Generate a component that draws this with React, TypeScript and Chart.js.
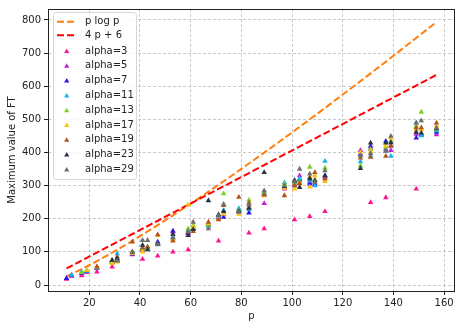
import React, { useEffect, useRef } from 'react';
import { Chart, registerables } from 'chart.js';
Chart.register(...registerables);

const primes = [11, 13, 17, 19, 23, 29, 31, 37, 41, 43, 47, 53, 59, 61, 67, 71, 73, 79, 83, 89, 97, 101, 103, 107, 109, 113, 127, 131, 137, 139, 149, 151, 157];

const pLogP = [26.38, 33.34, 48.16, 55.94, 72.12, 97.65, 106.45, 133.6, 152.26, 161.73, 180.96, 210.42, 240.57, 250.76, 281.71, 302.65, 313.2, 345.18, 366.76, 399.49, 443.75, 466.13, 477.37, 499.99, 511.35, 534.2, 615.21, 638.65, 674.04, 685.9, 745.58, 757.61, 793.82];
const fourPPlus6 = [50, 58, 74, 82, 98, 122, 130, 154, 170, 178, 194, 218, 242, 250, 274, 290, 298, 322, 338, 362, 394, 410, 418, 434, 442, 458, 514, 530, 554, 562, 602, 610, 634];

const a3 = [18, 27, 28, 38, 40, 55, null, null, 78, null, 88, 100, 107, null, null, 133, null, null, 157, 170, null, 197, null, 207, null, 222, null, 249, 264, null, 290, null, null];
const a5 = [20, 28, 35, 40, 50, 68, 72, 92, 105, 110, 125, 160, 155, 168, 185, 200, 215, 222, 235, 246, 290, 305, 330, 310, 302, 325, 406, 412, 410, 406, 455, 455, 454];
const a7 = [20, 29, 36, 41, 52, 70, 74, 95, 110, 108, 130, 163, 158, 170, 182, 205, 205, 225, 218, 275, 295, 300, 318, 305, 305, 330, 395, 419, 434, 420, 444, 452, 461];
const a11 = [null, 30, 40, 42, 52, 72, 95, 98, 112, 112, 122, 145, 165, 175, 178, 208, 225, 231, 228, 278, 309, 310, 322, 315, 300, 374, 372, 390, 405, 389, 490, 451, 466];
const a13 = [null, null, 37, 44, 54, 70, 78, 97, 108, 115, 124, 140, 170, 180, 180, 212, 276, 225, 256, 282, 305, 308, 312, 356, 318, 353, 360, 410, 416, 434, 480, 522, 470];
const a17 = [null, null, null, 45, 55, 65, 70, 96, 100, 110, 150, 138, 242, 175, 186, 200, 215, 214, 235, 270, 292, 290, 305, 296, 330, 313, 400, 404, 420, 444, 469, 470, 480];
const a19 = [null, null, null, null, 55, 74, 85, 130, 113, 115, 152, 133, 160, 162, 190, 197, 240, 265, 248, 272, 270, 300, 307, 325, 340, 320, 384, 386, 389, 420, 475, 475, 489];
const a23 = [null, null, null, null, null, 75, 80, 100, 120, 107, 125, 153, 150, 168, 255, 212, 222, 222, 232, 340, 298, 316, 295, 320, 315, 330, 352, 429, 429, 430, 461, 459, 472];
const a29 = [null, null, null, null, null, null, 73, 100, 135, 135, 123, 143, 160, 190, 170, 210, 244, 220, 242, 285, 300, 312, 350, 335, 310, 345, 391, 397, 404, 449, 489, 496, 474];

const alphaLabels = ['alpha=3', 'alpha=5', 'alpha=7', 'alpha=11', 'alpha=13', 'alpha=17', 'alpha=19', 'alpha=23', 'alpha=29'];
const alphaColors = ['#ff1493', '#c81ed6', '#2a17e8', '#18b0f0', '#72d420', '#ffc00a', '#b0561c', '#263545', '#6e6e6e'];
const alphaSeries = [a3, a5, a7, a11, a13, a17, a19, a23, a29];

const lineLabels = ['p log p', '4 p + 6'];
const lineColors = ['#ff7f0e', '#ff0000'];

const xTicks = [20, 40, 60, 80, 100, 120, 140, 160];
const yTicks = [0, 100, 200, 300, 400, 500, 600, 700, 800];

const FONT = 'DejaVu Sans';

function tri(ctx: CanvasRenderingContext2D, x: number, y: number, r: number, color: string) {
  ctx.beginPath();
  ctx.moveTo(x, y - r);
  ctx.lineTo(x + r * 0.866, y + r * 0.5);
  ctx.lineTo(x - r * 0.866, y + r * 0.5);
  ctx.closePath();
  ctx.fillStyle = color;
  ctx.fill();
}

const boxPlugin = {
  id: 'mplBox',
  afterDraw(chart: any) {
    const { ctx, chartArea: a } = chart;
    ctx.save();
    ctx.strokeStyle = '#222';
    ctx.lineWidth = 1;
    ctx.setLineDash([]);
    ctx.strokeRect(Math.round(a.left) + 0.5, Math.round(a.top) + 0.5, Math.round(a.right - a.left) - 1, Math.round(a.bottom - a.top));
    ctx.restore();
  },
};

const legendPlugin = {
  id: 'mplLegend',
  afterDraw(chart: any) {
    const ctx: CanvasRenderingContext2D = chart.ctx;
    ctx.save();
    const x0 = 53.5, y0 = 12.5, w = 83, h = 167, r = 3;
    ctx.beginPath();
    ctx.moveTo(x0 + r, y0);
    ctx.lineTo(x0 + w - r, y0);
    ctx.quadraticCurveTo(x0 + w, y0, x0 + w, y0 + r);
    ctx.lineTo(x0 + w, y0 + h - r);
    ctx.quadraticCurveTo(x0 + w, y0 + h, x0 + w - r, y0 + h);
    ctx.lineTo(x0 + r, y0 + h);
    ctx.quadraticCurveTo(x0, y0 + h, x0, y0 + h - r);
    ctx.lineTo(x0, y0 + r);
    ctx.quadraticCurveTo(x0, y0, x0 + r, y0);
    ctx.closePath();
    ctx.fillStyle = 'rgba(255,255,255,0.85)';
    ctx.fill();
    ctx.strokeStyle = '#d6d6d6';
    ctx.lineWidth = 1;
    ctx.stroke();

    ctx.font = `10px "${FONT}"`;
    ctx.textBaseline = 'middle';
    ctx.textAlign = 'left';
    const lineYs = [21.7, 35.3];
    lineLabels.forEach((lab, i) => {
      const y = lineYs[i];
      ctx.beginPath();
      ctx.setLineDash([7, 3]);
      ctx.strokeStyle = lineColors[i];
      ctx.lineWidth = 2;
      ctx.moveTo(57, y);
      ctx.lineTo(77, y);
      ctx.stroke();
      ctx.setLineDash([]);
      ctx.fillStyle = '#222';
      ctx.fillText(lab, 85, y);
    });
    alphaLabels.forEach((lab, i) => {
      const y = 51 + i * 14.8;
      tri(ctx, 66.7, y + 0.5, 3, alphaColors[i]);
      ctx.fillStyle = '#222';
      ctx.fillText(lab, 85, y);
    });
    ctx.restore();
  },
};

export default function App() {
  const ref = useRef<HTMLCanvasElement>(null);
  useEffect(() => {
    if (!ref.current) return;
    const toPts = (ys: (number | null)[]) =>
      primes.map((p, i) => (ys[i] == null ? null : { x: p, y: ys[i] as number })).filter((v) => v !== null) as { x: number; y: number }[];

    const datasets: any[] = [];
    [pLogP, fourPPlus6].forEach((ys, i) => {
      datasets.push({
        label: lineLabels[i],
        data: toPts(ys),
        showLine: true,
        borderColor: lineColors[i],
        backgroundColor: lineColors[i],
        borderWidth: 2,
        borderDash: [7, 3],
        pointRadius: 0,
        tension: 0,
        fill: false,
        order: 100 - i,
      });
    });
    alphaSeries.forEach((ys, i) => {
      datasets.push({
        label: alphaLabels[i],
        data: toPts(ys),
        showLine: false,
        pointStyle: 'triangle',
        pointRadius: 3.2,
        pointBorderWidth: 0,
        borderWidth: 0,
        backgroundColor: alphaColors[i],
        borderColor: alphaColors[i],
        order: 20 - i,
      });
    });

    const tickFont = { family: FONT, size: 10 };
    const gridOpts: any = {
      color: '#bdbdbd',
      lineWidth: 0.8,
      drawTicks: true,
      tickLength: 4,
      tickColor: '#222',
      tickBorderDash: [],
      tickWidth: 1,
    };
    const chart = new Chart(ref.current, {
      type: 'scatter',
      data: { datasets },
      options: {
        animation: false,
        responsive: false,
        layout: { padding: { top: 7, right: 2, left: 0, bottom: 0 } },
        plugins: { legend: { display: false }, tooltip: { enabled: false } },
        scales: {
          x: {
            type: 'linear',
            min: 3.7,
            max: 164.3,
            afterBuildTicks: (axis: any) => {
              axis.ticks = xTicks.map((v) => ({ value: v }));
            },
            afterFit: (s: any) => {
              s.height = 31;
            },
            ticks: { font: tickFont, color: '#222', padding: 2, maxRotation: 0 },
            grid: gridOpts,
            border: { display: false, dash: [3, 2] } as any,
            title: { display: true, text: 'p', font: { family: FONT, size: 10 }, color: '#222', padding: { top: 0, bottom: 0 } },
          },
          y: {
            type: 'linear',
            min: -18,
            max: 833,
            afterBuildTicks: (axis: any) => {
              axis.ticks = yTicks.map((v) => ({ value: v }));
            },
            afterFit: (s: any) => {
              s.width = 48;
            },
            ticks: { font: tickFont, color: '#222', padding: 3 },
            grid: gridOpts,
            border: { display: false, dash: [3, 2] } as any,
            title: { display: true, text: 'Maximum value of FT', font: { family: FONT, size: 10 }, color: '#222', padding: { top: 6, bottom: 0 } },
          },
        },
      },
      plugins: [boxPlugin, legendPlugin],
    });
    return () => chart.destroy();
  }, []);

  return (
    <div style={{ position: 'absolute', left: 0, top: 0, width: 459, height: 322, background: '#fff' }}>
      <canvas ref={ref} width={459} height={322} style={{ width: 459, height: 322, display: 'block' }} />
    </div>
  );
}
